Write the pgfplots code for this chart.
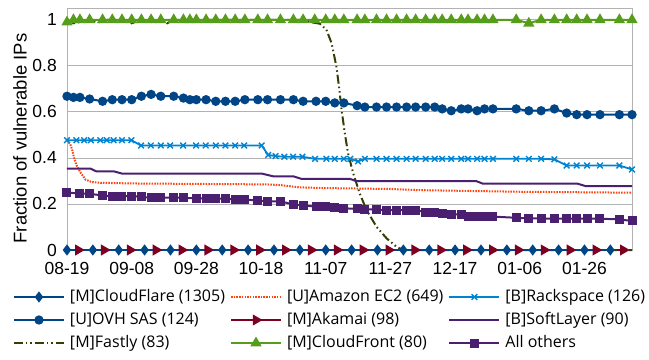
\documentclass[border=0pt]{standalone}
\usepackage{fontspec}
\setmainfont{Liberation Sans}
\newfontfamily\legfont{Open Sans}
\usepackage{pgfplots}
\pgfplotsset{compat=1.18}
\definecolor{cflare}{HTML}{004586}
\definecolor{cec2}{HTML}{FF420E}
\definecolor{crack}{HTML}{0084D1}
\definecolor{cakam}{HTML}{7E0021}
\definecolor{csoft}{HTML}{4B1F6F}
\definecolor{cfast}{HTML}{314004}
\definecolor{cfront}{HTML}{579D1C}
\tikzset{
  sflare/.style={cflare, line width=2bp, mark=diamond*, mark size=4bp, mark options={solid}},
  sec2/.style={cec2, line width=2bp, dash pattern=on 1.5bp off 1.2bp},
  srack/.style={crack, line width=1.8bp, mark=x, mark size=4bp, mark options={solid, line width=1.4bp}},
  sovh/.style={cflare, line width=2bp, mark=*, mark size=3.6bp, mark options={solid}},
  sakam/.style={cakam, line width=2bp, mark=triangle*, mark size=4.5bp, mark options={solid, rotate=-90}},
  ssoft/.style={csoft, line width=2bp},
  sfast/.style={cfast, line width=2bp, dash pattern=on 9bp off 3bp on 1.5bp off 3bp on 1.5bp off 3bp},
  sfront/.style={cfront, line width=2bp, mark=triangle*, mark size=4.5bp, mark options={solid}},
  sother/.style={csoft, line width=2bp, mark=square*, mark size=3.5bp, mark options={solid}},
}
\begin{document}
\begin{tikzpicture}
\path[use as bounding box] (-67bp,-110bp) rectangle (582bp,250bp);
\begin{axis}[
  scale only axis, width=565bp, height=241.7bp,
  xmin=0, xmax=174.7, ymin=0, ymax=1.05,
  clip=false,
  xtick={0,20,40,60,80,100,120,140,160},
  xticklabels={08-19,09-08,09-28,10-18,11-07,11-27,12-17,01-06,01-26},
  ytick={0,0.2,0.4,0.6,0.8,1},
  ymajorgrids,
  major grid style={draw=black!30, line width=0.8bp},
  axis line style={draw=black!30, line width=0.8bp},
  major tick length=0pt,
  /pgf/number format/assume math mode=true,
  tick label style={font=\fontsize{17.5bp}{20bp}\selectfont},
  xticklabel style={inner ysep=0pt, yshift=-11.7bp},
  yticklabel style={inner xsep=0pt, xshift=-10bp},
  ylabel={Fraction of vulnerable IPs},
  ylabel style={at={(rel axis cs:-0.0832,0.461)}, anchor=center, inner sep=0pt, font=\fontsize{18.5bp}{21bp}\selectfont},
  legend columns=3,
  legend cell align=left,
  legend image code/.code={\draw[mark repeat=2,mark phase=2] plot coordinates {(0bp,0bp) (25bp,0bp) (50bp,0bp)};},
  legend style={
    at={(rel axis cs:-0.09558,-0.16136)}, anchor=north west,
    draw=none, fill=none, inner sep=0pt, outer sep=0pt,
    font=\legfont\fontsize{16bp}{19bp}\selectfont,
    row sep=7bp,
    nodes={inner sep=0pt, text height=12.5bp, text depth=3.5bp},
    /tikz/every odd column/.append style={column sep=5bp},
    /tikz/every even column/.append style={column sep=5bp},
  },
]
% z-order drawing
\addplot[sakam, forget plot] coordinates {(3.5,0)(11.5,0)(19.5,0)(27.5,0)(35.5,0)(43.5,0)(51.5,0)(59.5,0)(67.5,0)(75.5,0)(83.5,0)(91.5,0)(99.5,0)(107.5,0)(115.5,0)(123.5,0)(131.5,0)(139.5,0)(147.5,0)(155.5,0)(163.5,0)(172,0)};
\addplot[sfast, forget plot] coordinates {(0,1)(2,0.985)(4,0.99)(6,1)(10,0.99)(12,1)(19,1)(20,0.985)(23,1)(26,0.99)(29,1)(31,0.985)(33,1)(72,1)(76.1,0.988)(78.2,0.983)(80.2,0.957)(81.8,0.899)(83.3,0.797)(84.1,0.71)(84.9,0.609)(85.9,0.507)(86.9,0.42)(88.5,0.333)(90.5,0.246)(92.6,0.174)(95.7,0.101)(98.8,0.051)(101.9,0.014)(103.9,0)(174.7,0)};
\addplot[sflare, forget plot] coordinates {(0,0)(8,0)(16,0)(24,0)(32,0)(40,0)(48,0)(56,0)(64,0)(72,0)(80,0)(88,0)(96,0)(104,0)(112,0)(120,0)(128,0)(136,0)(144,0)(152,0)(160,0)(168,0)};
\addplot[sec2, forget plot] coordinates {(0,0.477)(1,0.46)(1.5,0.44)(2.2,0.40)(2.9,0.37)(4,0.34)(5.7,0.306)(7.7,0.295)(10.3,0.292)(20.6,0.289)(41,0.287)(61.7,0.285)(66,0.282)(72,0.272)(80,0.269)(100,0.265)(109,0.26)(140,0.253)(174.7,0.249)};
\addplot[ssoft, forget plot] coordinates {(0,0.354)(7.2,0.354)(9,0.342)(14.4,0.342)(17,0.332)(60.2,0.332)(63.8,0.32)(70,0.32)(72.5,0.309)(87.5,0.309)(89.5,0.299)(126.6,0.299)(128.6,0.288)(157.9,0.288)(160.5,0.277)(174.7,0.277)};
\addplot[sother, forget plot] coordinates {(0,0.249)(4,0.246)(7,0.244)(11,0.237)(14,0.234)(17,0.234)(20,0.234)(23,0.231)(26,0.227)(29,0.227)(33,0.227)(36,0.227)(40,0.224)(43,0.224)(46,0.223)(49,0.223)(52,0.22)(55,0.22)(59,0.214)(62,0.212)(66,0.211)(70,0.198)(73,0.194)(77,0.188)(80,0.188)(82.8,0.184)(85.6,0.181)(89.7,0.179)(92.1,0.176)(95.7,0.176)(98.8,0.173)(101.9,0.173)(105,0.173)(107.8,0.173)(110.9,0.165)(113.7,0.162)(116,0.158)(118.8,0.155)(121.9,0.155)(124,0.147)(126.8,0.145)(129.1,0.145)(131.7,0.145)(138.9,0.14)(142.8,0.137)(146.6,0.137)(150.7,0.136)(154.5,0.136)(157.6,0.136)(160.8,0.136)(164.8,0.136)(170.8,0.133)(174.7,0.126)};
\addplot[srack, forget plot] coordinates {(0,0.477)(2.9,0.477)(5.3,0.477)(7.4,0.477)(10.3,0.477)(12.3,0.477)(14.4,0.477)(17,0.477)(19.9,0.477)(22.9,0.454)(25.9,0.454)(29,0.454)(31.9,0.454)(35.9,0.454)(39.9,0.454)(42.9,0.454)(46,0.454)(49,0.454)(52,0.454)(54.8,0.454)(60.2,0.454)(62.2,0.413)(64.5,0.408)(67.2,0.405)(69.9,0.405)(72.8,0.405)(76.7,0.396)(80.2,0.396)(82.8,0.396)(85.6,0.396)(87.6,0.396)(90,0.385)(92.1,0.396)(95.7,0.396)(98.8,0.396)(101.9,0.396)(105,0.396)(107.8,0.396)(110.9,0.396)(113.7,0.396)(116,0.396)(118.8,0.396)(121.9,0.396)(124,0.396)(126.8,0.396)(129.1,0.396)(131.7,0.396)(138.9,0.396)(142.8,0.396)(146.6,0.396)(150.7,0.394)(154.5,0.367)(157.6,0.367)(160.8,0.367)(164.8,0.367)(170.8,0.367)(174.7,0.35)};
\addplot[sovh, forget plot] coordinates {(0,0.668)(2,0.663)(4,0.663)(7,0.656)(11,0.646)(14,0.653)(17,0.653)(20,0.653)(23,0.668)(26,0.676)(29,0.668)(33,0.668)(36,0.66)(38,0.653)(40,0.653)(43,0.653)(46,0.646)(49,0.646)(52,0.646)(55,0.653)(59,0.653)(62,0.653)(66,0.653)(70,0.653)(73,0.646)(77,0.646)(80,0.646)(82.8,0.639)(85.6,0.639)(89.7,0.627)(92.1,0.621)(95.7,0.621)(98.8,0.621)(101.9,0.621)(105,0.621)(107.8,0.621)(110.9,0.621)(113.7,0.621)(116,0.613)(118.8,0.605)(121.9,0.613)(124,0.613)(126.8,0.605)(129.1,0.613)(131.7,0.613)(138.9,0.613)(142.8,0.605)(146.6,0.605)(150.7,0.613)(154.5,0.595)(157.6,0.588)(160.8,0.588)(164.8,0.588)(170.8,0.588)(174.7,0.588)};
\addplot[sfront, forget plot] coordinates {(0,0.99)(2,1)(4,1)(7,1)(11,1)(14,1)(17,1)(20,1)(23,1)(26,1)(29,1)(33,1)(36,1)(38,1)(40,1)(43,1)(46,1)(49,1)(52,1)(55,1)(59,1)(62,1)(66,1)(70,1)(73,1)(76.6,1)(80,1)(82.8,1)(85.6,1)(89.7,1)(92.1,1)(95.7,1)(98.8,1)(101.9,1)(105,1)(107.8,1)(110.9,1)(113.7,1)(116,1)(118.8,1)(121.9,1)(124,1)(126.8,1)(129.1,1)(131.7,1)(138.9,1)(142.8,0.985)(146.6,1)(150.7,1)(154.5,1)(157.6,1)(160.8,1)(164.8,1)(170.8,1)(174.7,1)};
% legend
\addlegendimage{sflare}\addlegendentry{[M]CloudFlare (1305)}
\addlegendimage{sec2}\addlegendentry{[U]Amazon EC2 (649)}
\addlegendimage{srack}\addlegendentry{[B]Rackspace (126)}
\addlegendimage{sovh}\addlegendentry{[U]OVH SAS (124)}
\addlegendimage{sakam}\addlegendentry{[M]Akamai (98)}
\addlegendimage{ssoft}\addlegendentry{[B]SoftLayer (90)}
\addlegendimage{sfast}\addlegendentry{[M]Fastly (83)}
\addlegendimage{sfront}\addlegendentry{[M]CloudFront (80)}
\addlegendimage{sother}\addlegendentry{All others}
\end{axis}
\end{tikzpicture}
\end{document}
